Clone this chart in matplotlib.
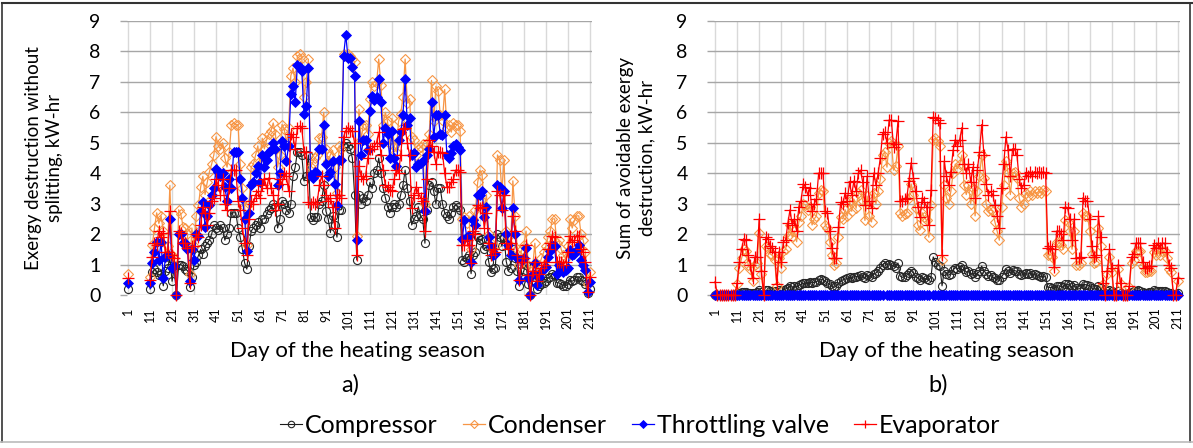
import numpy as np
import matplotlib
matplotlib.use("Agg")
import matplotlib.pyplot as plt
from matplotlib.lines import Line2D

plt.rcParams['font.family'] = ['Lato', 'DejaVu Sans']

nan = np.nan

# -----------------------------
# Data (one row = 10 days, days 1..211)
# -----------------------------
# panel a) exergy destruction without splitting, kW-hr
compressor_a = [
    0.2, nan, nan, nan, nan, nan, nan, nan, nan, nan,
    0.2, 0.75, 0.85, 0.75, 0.65, 0.7, 0.3, 0.8, 0.9, 1.2,
    0.45, 0.9, 0.0, 1.0, 1.0, 0.95, 0.85, 0.8, 0.25, 0.6,
    1.0, 1.1, 1.3, 1.5, 1.35, 1.6, 1.7, 1.8, 2.0, 2.3,
    2.2, 2.15, 2.3, 2.2, 1.8, 2.0, 2.2, 2.7, 2.7, 2.7,
    2.2, 1.9, 1.5, 1.05, 0.85, 1.6, 2.1, 2.2, 2.3, 2.4,
    2.2, 2.5, 2.5, 2.65, 2.8, 2.85, 3.0, 2.9, 2.2, 2.5,
    3.1, 3.0, 2.8, 2.7, 3.0, 3.9, 4.2, 4.7, 4.7, 4.6,
    3.75, 3.9, 4.6, 2.55, 2.45, 2.55, 2.55, 3.0, 3.1, 3.6,
    2.75, 2.5, 2.05, 2.6, 2.3, 1.9, 2.8, 2.8, 4.9, 5.0,
    4.9, 4.8, 4.5, 3.3, 1.15, 3.3, 3.0, 3.2, 3.1, 3.3,
    3.7, 3.5, 4.0, 4.1, 4.5, 4.0, 3.5, 3.2, 2.9, 2.7,
    2.9, 3.0, 2.9, 3.0, 3.3, 3.6, 4.1, 3.5, 3.1, 2.3,
    2.5, 2.6, 2.9, 2.6, 2.5, 1.7, 2.8, 3.6, 3.7, 3.4,
    3.0, 3.5, 3.5, 3.0, 2.7, 2.6, 2.5, 2.7, 2.9, 2.95,
    2.9, 2.8, 1.15, 1.1, 1.2, 1.3, 0.7, 1.3, 1.4, 1.9,
    1.8, 1.85, 1.5, 1.6, 1.1, 0.75, 0.85, 0.9, 2.0, 1.9,
    1.6, 1.9, 1.1, 0.8, 0.9, 1.5, 1.2, 0.8, 0.3, 0.6,
    0.8, 1.0, 0.35, 0.0, 0.5, 0.6, 0.2, 0.3, 0.35, 0.4,
    0.45, 0.55, 0.6, 0.7, 0.65, 0.4, 0.4, 0.35, 0.3, 0.3,
    0.35, 0.5, 0.45, 0.5, 0.6, 0.6, 0.5, 0.45, 0.35, 0.05,
    0.2,
]
condenser_a = [
    0.7, nan, nan, nan, nan, nan, nan, nan, nan, nan,
    0.6, 1.65, 2.2, 2.7, 2.35, 2.6, 2.1, 1.25, 1.6, 3.6,
    1.3, 1.2, 0.0, 2.8, 2.65, 2.25, 2.2, 2.0, 0.7, 2.2,
    1.6, 2.6, 2.95, 3.55, 3.9, 3.3, 3.7, 4.05, 4.3, 4.6,
    5.2, 4.9, 4.8, 5.0, 4.5, 4.2, 4.7, 5.6, 5.65, 5.6,
    5.6, 4.3, 3.5, 2.9, 1.65, 3.0, 4.2, 4.3, 4.6, 4.9,
    4.3, 5.15, 4.8, 5.1, 5.3, 5.4, 5.65, 5.3, 4.2, 4.6,
    5.6, 5.45, 5.0, 5.5, 7.2, 7.45, 7.0, 7.85, 7.9, 7.8,
    6.5, 7.0, 7.75, 4.2, 4.35, 4.5, 4.6, 5.15, 5.2, 6.0,
    4.8, 4.4, 4.6, 4.75, 4.2, 3.35, 4.9, 4.8, 7.9, 7.85,
    7.9, 7.85, 7.75, 7.65, 1.95, 6.1, 5.1, 5.6, 5.6, 5.3,
    6.45, 7.0, 6.85, 6.95, 7.75, 6.9, 5.6, 6.0, 5.7, 4.95,
    5.8, 4.9, 4.7, 5.7, 5.95, 6.5, 7.75, 6.3, 6.45, 5.2,
    5.1, 4.6, 4.8, 4.85, 4.95, 3.0, 5.0, 5.3, 7.05, 5.7,
    6.85, 6.7, 5.9, 5.75, 6.75, 5.5, 5.6, 5.35, 5.65, 5.6,
    5.6, 5.4, 2.5, 2.55, 2.35, 2.6, 1.5, 2.5, 2.8, 3.7,
    4.1, 3.95, 2.8, 3.3, 2.0, 1.7, 1.5, 1.6, 4.6, 4.45,
    3.4, 4.45, 2.1, 1.9, 1.6, 3.75, 2.6, 1.5, 1.0, 1.5,
    1.65, 2.1, 1.0, 0.0, 0.9, 1.7, 0.6, 1.0, 1.2, 1.4,
    1.6, 1.9, 2.1, 2.5, 2.5, 1.7, 1.8, 1.5, 1.3, 1.2,
    1.6, 2.5, 2.2, 2.45, 2.6, 2.6, 2.0, 1.8, 1.4, 0.35,
    0.75,
]
throttling_a = [
    0.4, nan, nan, nan, nan, nan, nan, nan, nan, nan,
    0.4, 1.05, 1.4, 1.75, 1.15, 1.75, 0.55, 1.25, 1.3, 2.5,
    0.9, 0.95, 0.0, 2.0, 2.0, 1.7, 1.7, 1.5, 0.45, 1.5,
    1.15, 2.0, 1.95, 2.75, 3.05, 2.25, 2.6, 2.95, 3.3, 3.5,
    4.15, 4.05, 3.9, 4.0, 3.55, 3.1, 3.8, 3.5, 4.7, 4.7,
    4.7, 3.8, 3.2, 2.5, 1.45, 2.7, 3.6, 3.7, 4.0, 4.25,
    3.7, 4.6, 4.2, 4.45, 4.7, 4.75, 5.0, 4.8, 3.6, 4.0,
    5.05, 4.9, 4.4, 4.9, 6.6, 6.85, 6.35, 7.55, 7.5, 7.35,
    5.95, 6.2, 7.45, 3.95, 3.85, 4.05, 4.0, 4.8, 4.8, 5.6,
    4.3, 3.9, 4.05, 4.4, 3.65, 2.95, 4.45, 4.45, 7.85, 8.55,
    7.8, 7.8, 7.5, 7.2, 1.8, 5.7, 4.6, 5.1, 5.1, 4.75,
    6.05, 6.55, 6.4, 6.5, 7.1, 6.35, 5.0, 5.5, 5.3, 4.5,
    5.4, 4.5, 4.25, 5.1, 5.35, 5.9, 7.1, 5.6, 5.8, 4.6,
    4.65, 4.2, 4.3, 4.35, 4.4, 2.75, 4.6, 4.8, 6.35, 5.2,
    5.9, 5.9, 5.3, 5.25, 5.9, 4.6, 4.5, 4.65, 4.9, 4.95,
    4.85, 4.75, 1.85, 2.45, 1.9, 1.95, 1.1, 2.45, 2.3, 3.3,
    3.3, 3.4, 2.55, 2.9, 1.9, 1.6, 1.3, 1.35, 3.6, 3.55,
    2.85, 3.4, 2.0, 1.65, 1.3, 2.85, 2.0, 1.2, 0.5, 1.15,
    1.2, 1.55, 0.55, 0.0, 0.7, 1.05, 0.33, 0.6, 0.75, 0.9,
    0.93, 1.25, 1.45, 1.65, 1.6, 0.7, 1.0, 0.9, 0.77, 0.82,
    0.9, 1.48, 1.3, 1.35, 1.48, 1.65, 1.15, 1.0, 0.82, 0.1,
    0.44,
]
evaporator_a = [
    0.55, nan, nan, nan, nan, nan, nan, nan, nan, nan,
    0.5, 1.25, 1.7, 1.65, 2.1, 1.9, 2.05, 1.4, 1.4, 2.75,
    1.3, 1.2, 0.0, 2.1, 2.05, 1.7, 1.7, 1.55, 0.4, 1.6,
    1.6, 2.0, 1.9, 2.3, 2.9, 2.7, 2.3, 2.7, 3.1, 3.2,
    3.8, 3.6, 3.3, 3.8, 3.0, 2.8, 3.5, 4.1, 4.1, 4.1,
    3.1, 2.8, 2.2, 1.7, 1.3, 2.5, 3.1, 3.0, 3.3, 3.4,
    3.2, 3.6, 3.8, 3.5, 3.85, 3.5, 3.3, 2.8, 3.0, 3.8,
    3.65, 4.0, 3.9, 3.4, 5.3, 5.2, 4.8, 5.5, 5.55, 5.5,
    4.7, 4.7, 3.05, 3.0, 3.05, 3.0, 3.05, 3.6, 3.9, 3.6,
    3.3, 3.1, 3.2, 2.9, 2.2, 3.3, 3.3, 3.2, 5.2, 5.4,
    5.5, 5.4, 5.4, 5.0, 1.3, 4.25, 3.9, 3.8, 3.9, 4.5,
    4.8, 4.8, 4.9, 5.0, 5.35, 4.6, 4.1, 3.6, 3.55, 3.45,
    3.4, 3.8, 4.1, 4.0, 4.6, 5.45, 5.5, 5.0, 4.6, 2.85,
    3.3, 3.55, 3.35, 3.2, 3.1, 2.1, 3.8, 5.1, 4.9, 4.7,
    4.3, 4.7, 4.7, 4.65, 4.0, 3.55, 3.55, 3.7, 3.8, 4.1,
    4.1, 4.05, 1.65, 1.65, 1.8, 1.65, 1.05, 2.1, 2.0, 2.95,
    2.85, 2.9, 2.2, 2.7, 1.7, 1.3, 1.5, 1.4, 3.4, 3.3,
    2.8, 3.3, 1.7, 1.5, 1.7, 2.6, 2.1, 1.3, 0.5, 1.1,
    1.2, 1.65, 0.65, 0.0, 0.8, 1.1, 0.45, 0.7, 0.9, 1.0,
    1.1, 1.5, 1.7, 1.95, 1.9, 1.1, 1.1, 1.1, 1.0, 1.1,
    1.4, 1.95, 1.75, 1.8, 1.95, 1.95, 1.5, 1.4, 1.1, 0.1,
    0.6,
]

# panel b) sum of avoidable exergy destruction, kW-hr
compressor_b = [
    0, 0, 0, 0, 0, 0, 0, 0, 0, 0,
    0.05, 0.08, 0.1, 0.1, 0.1, 0.08, 0.07, 0.05, 0.08, 0.1,
    0.15, 0.1, 0.0, 0.15, 0.15, 0.14, 0.14, 0.12, 0.05, 0.15,
    0.12, 0.18, 0.2, 0.24, 0.28, 0.26, 0.28, 0.25, 0.32, 0.35,
    0.38, 0.4, 0.38, 0.42, 0.4, 0.42, 0.44, 0.5, 0.52, 0.5,
    0.45, 0.4, 0.35, 0.28, 0.25, 0.3, 0.38, 0.45, 0.5, 0.52,
    0.55, 0.58, 0.55, 0.6, 0.6, 0.62, 0.65, 0.6, 0.55, 0.65,
    0.62, 0.58, 0.7, 0.72, 0.8, 0.9, 1.0, 1.05, 1.0, 1.02,
    1.0, 0.95, 0.9, 1.05, 0.62, 0.58, 0.6, 0.65, 0.72, 0.8,
    0.72, 0.6, 0.55, 0.5, 0.58, 0.55, 0.52, 0.48, 0.6, 1.25,
    1.1, 1.0, 0.95, 0.3, 0.8, 0.7, 0.65, 0.7, 0.82, 0.9,
    0.85, 0.92, 0.98, 0.85, 0.75, 0.8, 0.68, 0.72, 0.6, 0.7,
    0.78, 0.95, 0.8, 0.7, 0.62, 0.65, 0.6, 0.55, 0.5, 0.48,
    0.6, 0.7, 0.85, 0.8, 0.72, 0.82, 0.8, 0.78, 0.7, 0.65,
    0.68, 0.72, 0.68, 0.72, 0.66, 0.7, 0.66, 0.64, 0.6, 0.62,
    0.58, 0.25, 0.25, 0.24, 0.2, 0.3, 0.3, 0.28, 0.26, 0.35,
    0.35, 0.32, 0.25, 0.32, 0.22, 0.2, 0.22, 0.35, 0.34, 0.33,
    0.3, 0.22, 0.2, 0.2, 0.3, 0.22, 0.1, 0.05, 0.12, 0.18,
    0.12, 0.05, 0.04, 0.12, 0.06, 0.03, 0.03, 0.03, 0.05, 0.1,
    0.12, 0.14, 0.15, 0.14, 0.1, 0.08, 0.08, 0.1, 0.1, 0.15,
    0.12, 0.14, 0.12, 0.14, 0.13, 0.1, 0.08, 0.07, 0.02, 0.02,
    0.05,
]
condenser_b = [
    0, 0, 0, 0, 0, 0, 0, 0, 0, 0,
    0.35, 0.9, 1.2, 1.5, 1.45, 1.0, 0.85, 0.45, 1.0, 1.05,
    2.05, 0.7, 0.0, 1.6, 1.55, 1.35, 1.3, 1.15, 0.3, 1.2,
    0.9, 1.45, 1.5, 1.95, 2.3, 1.9, 2.1, 1.75, 2.4, 2.6,
    3.0, 2.95, 2.8, 2.9, 2.3, 2.5, 2.6, 3.35, 3.45, 3.4,
    2.3, 2.2, 1.75, 1.3, 1.0, 1.05, 1.9, 2.55, 2.5, 2.8,
    2.6, 3.1, 2.75, 3.15, 2.85, 3.35, 3.45, 3.1, 2.45, 3.25,
    2.6, 2.4, 3.35, 3.0, 3.4, 3.8, 4.6, 4.7, 4.2, 5.0,
    5.05, 4.1, 4.25, 4.9, 2.7, 2.6, 2.65, 2.7, 3.2, 3.65,
    3.3, 2.85, 2.3, 2.15, 2.7, 2.55, 2.45, 1.9, 2.95, 5.1,
    5.15, 5.05, 4.9, 1.15, 3.6, 3.2, 3.0, 3.4, 4.0, 4.3,
    4.15, 4.3, 4.6, 3.6, 3.3, 3.6, 3.0, 3.5, 2.6, 3.4,
    3.9, 4.6, 3.85, 3.0, 2.75, 2.8, 2.75, 2.4, 2.1, 1.8,
    2.9, 3.6, 4.4, 4.0, 3.3, 4.0, 4.05, 3.85, 3.2, 2.9,
    3.0, 3.35, 3.25, 3.4, 3.3, 3.4, 3.35, 3.4, 3.35, 3.45,
    3.4, 1.3, 1.35, 1.25, 0.8, 1.75, 1.75, 1.65, 1.5, 2.45,
    2.4, 2.1, 1.5, 2.1, 1.0, 1.0, 1.05, 2.7, 2.6, 2.6,
    2.1, 1.35, 1.05, 1.1, 2.2, 1.6, 0.35, 0.0, 0.7, 1.25,
    0.75, 0.0, 0.0, 0.85, 0.35, 0.0, 0.0, 0.0, 0.25, 1.05,
    1.15, 1.45, 1.45, 1.45, 0.95, 0.75, 0.75, 0.8, 0.8, 1.4,
    1.3, 1.45, 1.3, 1.45, 1.45, 1.2, 0.85, 0.75, 0.0, 0.0,
    0.45,
]
throttling_b = [
    0, 0, 0, 0, 0, 0, 0, 0, 0, 0,
    0, 0, 0, 0, 0, 0, 0, 0, 0, 0,
    0, 0, 0, 0, 0, 0, 0, 0, 0, 0,
    0, 0, 0, 0, 0, 0, 0, 0, 0, 0,
    0, 0, 0, 0, 0, 0, 0, 0, 0, 0,
    0, 0, 0, 0, 0, 0, 0, 0, 0, 0,
    0, 0, 0, 0, 0, 0, 0, 0, 0, 0,
    0, 0, 0, 0, 0, 0, 0, nan, 0, 0,
    0, 0, 0, 0, 0, 0, 0, 0, 0, 0,
    0, 0, 0, 0, 0, 0, 0, 0, nan, 0,
    0, 0, 0, 0, 0, 0, 0, 0, 0, 0,
    0, 0, 0, 0, 0, 0, 0, 0, 0, 0,
    0, 0, 0, 0, 0, 0, 0, 0, 0, 0,
    0, 0, 0, 0, 0, 0, 0, 0, 0, 0,
    0, 0, 0, 0, 0, 0, 0, 0, 0, 0,
    0, 0, 0, 0, 0, 0, 0, 0, 0, 0,
    0, 0, 0, 0, 0, 0, 0, 0, 0, 0,
    0, 0, 0, 0, 0, 0, 0, 0, 0, 0,
    0, 0, 0, 0, 0, 0, 0, 0, 0, 0,
    0, 0, 0, 0, 0, 0, 0, 0, 0, 0,
    0, 0, 0, 0, 0, 0, 0, 0, 0, 0,
    0,
]
evaporator_b = [
    0.44, 0, 0, 0, 0, 0, 0, 0, 0, 0,
    0.4, 1.1, 1.5, 1.85, 1.8, 1.3, 1.0, 0.55, 1.25, 1.25,
    2.5, 0.8, 0.0, 1.9, 1.85, 1.6, 1.55, 1.4, 0.35, 1.4,
    1.1, 1.75, 1.8, 2.35, 2.8, 2.3, 2.5, 2.1, 2.9, 3.1,
    3.65, 3.55, 3.3, 3.5, 2.75, 3.0, 3.15, 4.0, 4.0, 4.0,
    2.75, 2.7, 2.1, 1.55, 1.2, 1.2, 2.25, 3.05, 3.0, 3.35,
    3.1, 3.7, 3.3, 3.75, 3.4, 4.0, 4.1, 3.7, 2.95, 3.9,
    3.1, 2.85, 4.0, 3.6, 4.0, 4.5, 5.3, 5.35, 5.0, 5.75,
    5.75, 4.85, 4.95, 5.7, 3.1, 3.1, 3.15, 3.2, 3.75, 4.35,
    3.85, 3.4, 2.9, 2.55, 3.2, 3.05, 2.9, 2.3, 3.45, 5.85,
    5.8, 5.75, 5.65, 1.3, 4.4, 3.9, 3.6, 4.05, 4.75, 5.1,
    4.9, 5.1, 5.5, 4.3, 4.0, 4.3, 3.7, 4.2, 3.2, 4.1,
    4.7, 5.6, 4.6, 3.65, 3.3, 3.4, 3.3, 2.95, 2.6, 2.2,
    3.5, 4.3, 5.2, 4.75, 3.9, 4.8, 4.8, 4.6, 3.8, 3.5,
    3.6, 4.0, 3.9, 4.05, 3.9, 4.05, 4.0, 4.05, 4.0, 4.05,
    4.0, 1.55, 1.6, 1.5, 0.93, 2.1, 2.1, 2.0, 1.8, 2.9,
    2.85, 2.5, 1.8, 2.5, 1.2, 1.2, 1.25, 3.2, 3.1, 3.1,
    2.5, 1.6, 1.25, 1.3, 2.6, 1.9, 0.4, 0.0, 0.8, 1.5,
    0.9, 0.0, 0.0, 1.0, 0.4, 0.0, 0.0, 0.0, 0.3, 1.25,
    1.35, 1.7, 1.7, 1.7, 1.1, 0.9, 0.9, 0.95, 0.95, 1.65,
    1.55, 1.7, 1.55, 1.7, 1.7, 1.4, 1.0, 0.9, 0.0, 0.0,
    0.55,
]

series_names = ["Compressor", "Condenser", "Throttling valve", "Evaporator"]
tick_days = list(range(1, 212, 10))

# -----------------------------
# Styles
# -----------------------------
styles = [
    dict(color="#1a1a1a", lw=0.8, marker="o", ms=5.8, mfc="none", mec="#262626", mew=0.8),
    dict(color="#F79646", lw=0.9, marker="D", ms=4.6, mfc="none", mec="#F79646", mew=0.8),
    dict(color="#0000FF", lw=0.9, marker="D", ms=4.6, mfc="#0000FF", mec="#0000FF", mew=0.6),
    dict(color="#FF0000", lw=0.9, marker="+", ms=8, mec="#FF0000", mew=0.9),
]

W, H = 1193, 448
fig = plt.figure(figsize=(W / 100, H / 100), dpi=100)


def px_box(x0, x1, ytop, ybot):
    return [x0 / W, 1 - ybot / H, (x1 - x0) / W, (ybot - ytop) / H]


def draw_panel(ax, data):
    for vals, st, name in zip(data, styles, series_names):
        days = np.arange(1, len(vals) + 1)
        ax.plot(days, vals, label=name, clip_on=False, zorder=3, **st)
    ax.set_xlim(0.5, 212)
    ax.set_ylim(0, 9)
    ax.set_yticks(range(10))
    ax.set_xticks(tick_days)
    ax.set_xticklabels([str(d) for d in tick_days], rotation=90, fontsize=9)
    for s in ax.spines.values():
        s.set_visible(False)
    ax.set_axisbelow(True)
    ax.grid(axis="y", color="#A6A6A6", lw=1.0)
    ax.grid(axis="x", color="#D9D9D9", lw=1.0)
    ax.tick_params(axis="y", length=5, color="#A6A6A6", width=1.0, pad=14, labelsize=14)
    ax.tick_params(axis="x", length=0, pad=9)


ax_a = fig.add_axes(px_box(127, 592, 21, 295))
draw_panel(ax_a, [compressor_a, condenser_a, throttling_a, evaporator_a])

ax_b = fig.add_axes(px_box(714, 1180, 21, 295))
draw_panel(ax_b, [compressor_b, condenser_b, throttling_b, evaporator_b])

# axis texts
fig.text(44 / W, 1 - 158 / H, "Exergy destruction without\nsplitting, kW-hr",
         rotation=90, ha="center", va="center", fontsize=13.5, linespacing=1.3)
fig.text(636 / W, 1 - 158 / H, "Sum of avoidable exergy\ndestruction, kW-hr",
         rotation=90, ha="center", va="center", fontsize=13.5, linespacing=1.3)
fig.text(358 / W, 1 - 351 / H, "Day of the heating season", ha="center", va="center", fontsize=16)
fig.text(947 / W, 1 - 351 / H, "Day of the heating season", ha="center", va="center", fontsize=16)
fig.text(350 / W, 1 - 385 / H, "a)", ha="center", va="center", fontsize=17)
fig.text(938 / W, 1 - 385 / H, "b)", ha="center", va="center", fontsize=17)

# legend
handles, labels = ax_a.get_legend_handles_labels()
fig.legend(handles, labels, loc="center", bbox_to_anchor=(640 / W, 1 - 425 / H),
           ncol=4, frameon=False, fontsize=18, handlelength=0.9, handletextpad=0.1,
           columnspacing=1.0, markerscale=0.8)

# outer border
fig.add_artist(Line2D([2 / W, 1], [1 - 3 / H, 1 - 3 / H], color="#333333", lw=1.5))
fig.add_artist(Line2D([2 / W, 2 / W], [1 - 3 / H, 1 - 442 / H], color="#333333", lw=1.2))
fig.add_artist(Line2D([1190 / W, 1190 / W], [1 - 3 / H, 1 - 442 / H], color="#333333", lw=1.2))
fig.add_artist(Line2D([0, 1], [1 - 442 / H, 1 - 442 / H], color="#BBBBBB", lw=1.2))

fig.savefig("out.png", dpi=100)
